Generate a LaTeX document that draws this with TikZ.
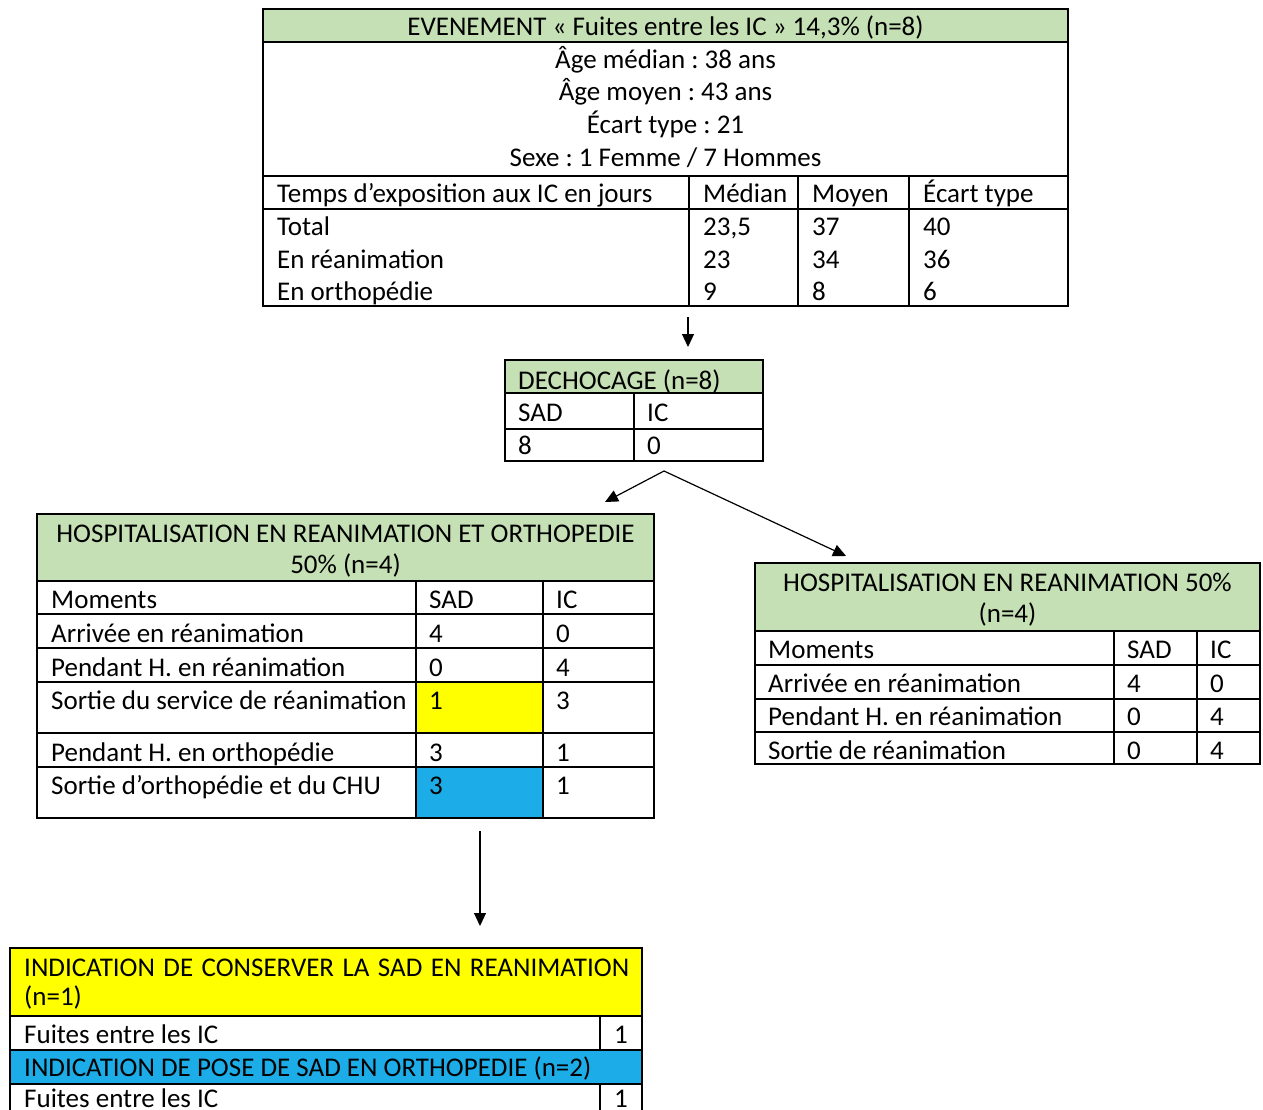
\documentclass[tikz,border=0pt]{standalone}
\usepackage{fontspec}
\setmainfont{Carlito}
\usetikzlibrary{arrows.meta}
\definecolor{hdrgreen}{HTML}{C5E0B4}
\definecolor{hlyellow}{HTML}{FFFF00}
\definecolor{hlblue}{HTML}{1CADE8}
\frenchspacing
\begin{document}
\begin{tikzpicture}[x=1pt,y=-1pt,
  frame/.style={draw, line width=1.5pt, inner sep=0pt, outer sep=0pt, anchor=north west},
  grid/.style={line width=1.3pt},
  txt/.style={font=\fontsize{27}{32}\selectfont, inner sep=0pt, anchor=base west, yshift=-1pt},
  ctxt/.style={txt, anchor=base},
  arr/.style={line width=1.2pt, -{Triangle[length=13pt,width=12pt]}}]
\useasboundingbox (0,0) rectangle (1263,1110);
\fill[white] (0,0) rectangle (1263,1110);

% ---------- top table ----------
\fill[hdrgreen] (263,9) rectangle (1068,42);
\node[frame, minimum width=805pt, minimum height=297pt] (evt) at (263,9) {};
\draw[grid] (263,42) -- (1068,42);
\draw[grid] (263,176) -- (1068,176);
\draw[grid] (263,209) -- (1068,209);
\draw[grid] (689,176) -- (689,306);
\draw[grid] (798,176) -- (798,306);
\draw[grid] (909,176) -- (909,306);
\node[ctxt] (evth) at (665.5,35) {EVENEMENT « Fuites entre les IC » 14,3\% (n=8)};
\node[ctxt] (evt1) at (665.5,68) {Âge médian : 38 ans};
\node[ctxt] (evt2) at (665.5,100) {Âge moyen : 43 ans};
\node[ctxt] (evt3) at (665.5,133) {Écart type : 21};
\node[ctxt] (evt4) at (665.5,166) {Sexe : 1 Femme / 7 Hommes};
\node[txt] (t00) at (277,202) {Temps d’exposition aux IC en jours};
\node[txt] (t10) at (277,235) {Total};
\node[txt] (t20) at (277,267) {En réanimation};
\node[txt] (t30) at (277,299) {En orthopédie};
\node[txt] (t01) at (703,202) {Médian};
\node[txt] (t11) at (703,235) {23,5};
\node[txt] (t21) at (703,267) {23};
\node[txt] (t31) at (703,299) {9};
\node[txt] (t02) at (812,202) {Moyen};
\node[txt] (t12) at (812,235) {37};
\node[txt] (t22) at (812,267) {34};
\node[txt] (t32) at (812,299) {8};
\node[txt] (t03) at (923,202) {Écart type};
\node[txt] (t13) at (923,235) {40};
\node[txt] (t23) at (923,267) {36};
\node[txt] (t33) at (923,299) {6};

% ---------- dechocage ----------
\fill[hdrgreen] (505,360) rectangle (763,393);
\node[frame, minimum width=258pt, minimum height=101pt] (dec) at (505,360) {};
\draw[grid] (505,393) -- (763,393);
\draw[grid] (505,429) -- (763,429);
\draw[grid] (634,393) -- (634,461);
\node[txt] (dech) at (518,388) {DECHOCAGE (n=8)};
\node[txt] (d10) at (518,420) {SAD};
\node[txt] (d20) at (518,453) {8};
\node[txt] (d11) at (647,420) {IC};
\node[txt] (d21) at (647,453) {0};

% ---------- left table ----------
\fill[hdrgreen] (37,514) rectangle (654,581);
\fill[hlyellow] (416,682) rectangle (543,733);
\fill[hlblue] (416,767) rectangle (543,818);
\node[frame, minimum width=617pt, minimum height=304pt] (hro) at (37,514) {};
\foreach \yy in {581,614,648,682,733,767} \draw[grid] (37,\yy) -- (654,\yy);
\draw[grid] (416,581) -- (416,818);
\draw[grid] (543,581) -- (543,818);
\node[ctxt] (hroh1) at (345.5,541) {HOSPITALISATION EN REANIMATION ET ORTHOPEDIE};
\node[ctxt] (hroh2) at (345.5,572) {50\% (n=4)};
\node[txt] (l10) at (51,607) {Moments};
\node[txt] (l20) at (51,641) {Arrivée en réanimation};
\node[txt] (l30) at (51,675) {Pendant H. en réanimation};
\node[txt] (l40) at (51,708) {Sortie du service de réanimation};
\node[txt] (l50) at (51,760) {Pendant H. en orthopédie};
\node[txt] (l60) at (51,793) {Sortie d’orthopédie et du CHU};
\node[txt] (l11) at (429,607) {SAD};
\node[txt] (l21) at (429,641) {4};
\node[txt] (l31) at (429,675) {0};
\node[txt] (l41) at (429,708) {1};
\node[txt] (l51) at (429,760) {3};
\node[txt] (l61) at (429,793) {3};
\node[txt] (l12) at (556,607) {IC};
\node[txt] (l22) at (556,641) {0};
\node[txt] (l32) at (556,675) {4};
\node[txt] (l42) at (556,708) {3};
\node[txt] (l52) at (556,760) {1};
\node[txt] (l62) at (556,793) {1};

% ---------- right table ----------
\fill[hdrgreen] (755,563) rectangle (1260,631);
\node[frame, minimum width=505pt, minimum height=201pt] (hr) at (755,563) {};
\foreach \yy in {631,665,699,732} \draw[grid] (755,\yy) -- (1260,\yy);
\draw[grid] (1114,631) -- (1114,764);
\draw[grid] (1197,631) -- (1197,764);
\node[ctxt] (hrh1) at (1007.5,590) {HOSPITALISATION EN REANIMATION 50\%};
\node[ctxt] (hrh2) at (1007.5,621) {(n=4)};
\node[txt] (r10) at (768,657) {Moments};
\node[txt] (r20) at (768,691) {Arrivée en réanimation};
\node[txt] (r30) at (768,724) {Pendant H. en réanimation};
\node[txt] (r40) at (768,758) {Sortie de réanimation};
\node[txt] (r11) at (1127,657) {SAD};
\node[txt] (r21) at (1127,691) {4};
\node[txt] (r31) at (1127,724) {0};
\node[txt] (r41) at (1127,758) {0};
\node[txt] (r12) at (1210,657) {IC};
\node[txt] (r22) at (1210,691) {0};
\node[txt] (r32) at (1210,724) {4};
\node[txt] (r42) at (1210,758) {4};

% ---------- bottom table ----------
\fill[hlyellow] (10,948) rectangle (642,1016);
\fill[hlblue] (10,1050) rectangle (642,1084);
\node[frame, minimum width=632pt, minimum height=190pt] (ind) at (10,948) {};
\foreach \yy in {1016,1050,1084} \draw[grid] (10,\yy) -- (642,\yy);
\draw[grid] (600,1016) -- (600,1050);
\draw[grid] (600,1084) -- (600,1138);
\node[txt] (b1) at (24,975) {\makebox[605pt][s]{INDICATION DE CONSERVER LA SAD EN REANIMATION}};
\node[txt] (b2) at (24,1004) {(n=1)};
\node[txt] (b3) at (24,1042) {Fuites entre les IC};
\node[txt] (b3v) at (614,1042) {1};
\node[txt] (b4) at (24,1075) {INDICATION DE POSE DE SAD EN ORTHOPEDIE (n=2)};
\node[txt] (b5) at (24,1106) {Fuites entre les IC};
\node[txt] (b5v) at (614,1106) {1};

% ---------- connectors ----------
\coordinate (a1s) at (688,317);
\coordinate (a1e) at (688,347);
\coordinate (a2s) at (664,471);
\coordinate (a2l) at (605,502);
\coordinate (a2r) at (846,556);
\coordinate (a3s) at (480,831);
\coordinate (a3e) at (480,926);
\draw[arr] (a1s) -- (a1e);
\draw[arr] (a2s) -- (a2l);
\draw[arr] (a2s) -- (a2r);
\draw[arr] (a3s) -- (a3e);
\end{tikzpicture}
\end{document}
